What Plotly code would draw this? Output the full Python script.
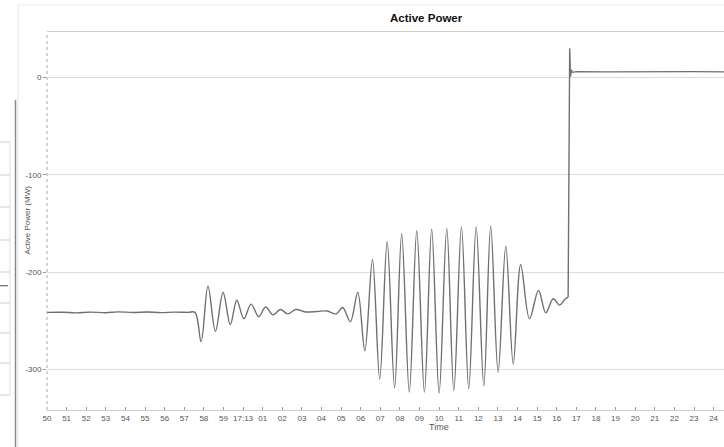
import plotly.graph_objects as go

# ---------------- data (seconds after 17:12:50, MW) ----------------
t_swing = [0.0, 0.8, 1.5, 2.2, 3.0, 3.6, 4.4, 5.1, 5.8, 6.5, 7.2, 7.55,
           7.86, 8.21, 8.59, 8.98, 9.35, 9.68, 10.04, 10.41, 10.80, 11.15,
           11.53, 11.90, 12.28, 12.70, 13.18, 13.78, 14.29, 14.75, 15.08,
           15.47, 15.85, 16.21, 16.60, 16.97, 17.35, 17.73, 18.09, 18.48,
           18.86, 19.25, 19.62, 20.00, 20.39, 20.75, 21.14, 21.51, 21.89,
           22.28, 22.63, 23.01, 23.40, 23.78, 24.16, 24.61, 25.07, 25.44,
           25.82, 26.14, 26.44, 26.58]
p_swing = [-241.5, -241.3, -242.0, -241.2, -241.8, -240.9, -241.6, -241.0,
           -241.7, -241.2, -241.5, -241.5,
           -271.5, -214.5, -261.0, -221.0, -254.0, -229.0, -248.0, -233.0,
           -246.0, -236.0, -244.0, -238.5, -243.0, -238.5, -241.0, -240.5,
           -240.0, -243.0, -236.5, -251.0, -221.0, -281.0, -187.0, -310.0,
           -168.5, -319.0, -160.5, -323.5, -157.5, -323.5, -156.0, -324.5,
           -155.0, -322.0, -153.5, -320.0, -153.5, -317.0, -152.5, -303.0,
           -173.5, -294.5, -192.5, -248.0, -219.0, -242.0, -227.5, -234.0,
           -227.5, -226.0]

t_trip = [26.58, 26.63, 26.66, 26.70, 26.74, 26.80, 27.0, 28.5, 30.0, 31.5, 33.0, 34.6]
p_trip = [-226.0, -100.0, 30.0, 1.0, 8.0, 5.5, 6.2, 6.0, 6.3, 6.0, 6.2, 6.0]

x_ticks = list(range(0, 35))
x_labels = ["50", "51", "52", "53", "54", "55", "56", "57", "58", "59", "17:13"] + \
           ["%02d" % i for i in range(1, 25)]
y_ticks = [0, -100, -200, -300]
y_labels = ["0", "-100", "-200", "-300"]

# ---------------- layout geometry ----------------
W, H = 724, 447
L, R, T, B = 47, 0, 32, 37
PW, PH = W - L - R, H - T - B


def px(x):
    return (x - L) / PW


def py(y):
    return (H - B - y) / PH


LINE = "#707070"
GRID = "#dcdcdc"
TXT = "#555555"
FONT = "Liberation Sans, Arial, sans-serif"

fig = go.Figure()
fig.add_trace(go.Scatter(x=t_swing, y=p_swing, mode="lines",
                         line=dict(color=LINE, width=1.4, shape="spline", smoothing=1.0),
                         hoverinfo="skip", showlegend=False))
fig.add_trace(go.Scatter(x=t_trip, y=p_trip, mode="lines",
                         line=dict(color=LINE, width=1.4),
                         hoverinfo="skip", showlegend=False))

fig.update_layout(
    width=W, height=H,
    margin=dict(l=L, r=R, t=T, b=B, pad=0),
    paper_bgcolor="white", plot_bgcolor="white",
    font=dict(family=FONT, size=8, color=TXT),
    showlegend=False,
    xaxis=dict(range=[0, PW / 19.606], tickmode="array", tickvals=x_ticks,
               ticktext=x_labels, showgrid=False, zeroline=False,
               showline=True, linecolor="#cfcfcf", linewidth=1, mirror=True,
               ticks="inside", ticklen=3, tickcolor="#999999",
               tickfont=dict(size=8, color=TXT, family=FONT)),
    yaxis=dict(range=[-341.9, 47.0], tickmode="array", tickvals=y_ticks,
               ticktext=y_labels, showgrid=True, gridcolor=GRID, gridwidth=1,
               zeroline=False, showline=False,
               ticks="outside", ticklen=3, tickcolor="#999999",
               tickfont=dict(size=8, color=TXT, family=FONT)),
)

# titles as annotations (the visible window is a crop of a wider chart)
fig.add_annotation(text="<b>Active Power</b>", xref="paper", yref="paper",
                   x=px(426.5), y=py(18), xanchor="center", yanchor="middle",
                   showarrow=False, font=dict(size=11.5, color="#111111", family=FONT))
fig.add_annotation(text="Time", xref="paper", yref="paper",
                   x=px(438.5), y=py(427), xanchor="center", yanchor="middle",
                   showarrow=False, font=dict(size=9, color=TXT, family=FONT))
fig.add_annotation(text="Active Power (MW)", xref="paper", yref="paper",
                   x=px(27), y=py(220.5), xanchor="center", yanchor="middle",
                   textangle=-90, showarrow=False,
                   font=dict(size=8, color=TXT, family=FONT))

shapes = []
# dotted y axis line
shapes.append(dict(type="line", xref="paper", yref="paper", x0=0, x1=0, y0=0, y1=1,
                   line=dict(color="#aaaaaa", width=1, dash="dot")))
# panel frame pieces around the chart
shapes.append(dict(type="line", xref="paper", yref="paper", x0=px(18), x1=px(724),
                   y0=py(5), y1=py(5), line=dict(color="#ececec", width=1)))
shapes.append(dict(type="line", xref="paper", yref="paper", x0=px(18), x1=px(18),
                   y0=py(5), y1=py(447), line=dict(color="#e6e6e6", width=1)))
shapes.append(dict(type="line", xref="paper", yref="paper", x0=px(15.5), x1=px(15.5),
                   y0=py(100), y1=py(447), line=dict(color="#8a8a8a", width=1.5)))
# sliver of neighbouring panel on the left
for yy in [142, 175, 207, 240, 272, 303, 333, 363, 395]:
    shapes.append(dict(type="line", xref="paper", yref="paper", x0=px(0), x1=px(10),
                       y0=py(yy), y1=py(yy), line=dict(color="#cfcfcf", width=1)))
shapes.append(dict(type="line", xref="paper", yref="paper", x0=px(10), x1=px(10),
                   y0=py(142), y1=py(395), line=dict(color="#e0e0e0", width=1)))
shapes.append(dict(type="line", xref="paper", yref="paper", x0=px(0), x1=px(8),
                   y0=py(285.7), y1=py(285.7), line=dict(color="#666666", width=1.2)))
fig.update_layout(shapes=shapes)

fig.write_html("out.html")
